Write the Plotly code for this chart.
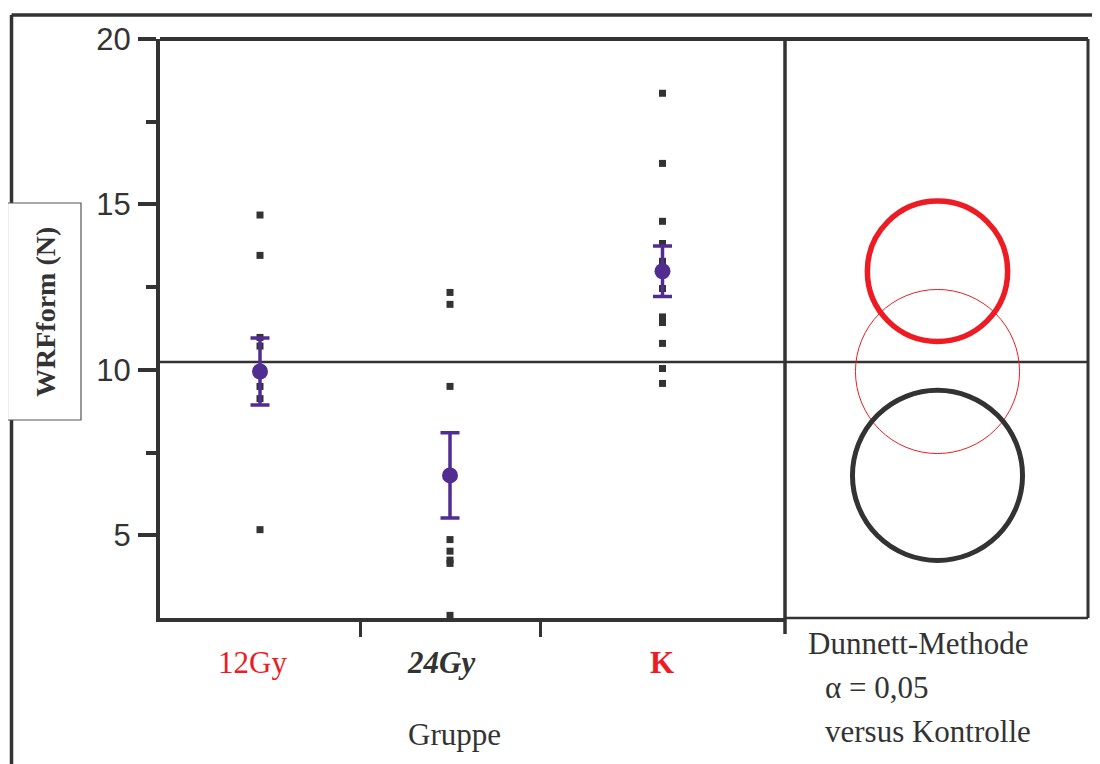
import plotly.graph_objects as go

# ---------------- data ----------------
categories = ["12Gy", "24Gy", "K"]
group_width = [8, 7.2, 9.8]          # relative width of each group on the x axis
values_12gy = [14.68, 13.46, 10.98, 10.72, 9.88, 9.50, 9.13, 5.17]
values_24gy = [12.34, 11.98, 9.50, 4.87, 4.52, 4.25, 4.15, 2.58]
values_k = [18.36, 16.24, 14.49, 13.82, 13.28, 12.46, 11.60, 11.43, 10.80, 10.04, 9.59]
group_means = [9.95, 6.81, 12.98]
mean_err = [1.01, 1.29, 0.76]
grand_mean = 10.24
circle_radius = [2.48, 2.57, 2.12]
y_ticks = [5, 10, 15, 20]
y_minor_ticks = [7.5, 12.5, 17.5]
y_range = [2.5, 20]
note_lines = ["Dunnett-Methode", "α = 0,05", "versus Kontrolle"]
y_title = "WRFform (N)"
x_title = "Gruppe"

# ---------------- layout geometry (page pixels, body margin 8px) ----------------
OFF = 8
W, H = 1100 - OFF, 764 - OFF
L, R = 160 - OFF, 12
T = 39 - OFF
B = H - (618 - OFF)
PW, PH = W - L - R, H - T - B
SPLIT = 785
dom_split = (SPLIT - OFF - L) / PW
DARK = "#333333"
RED = "#ED1C24"
PURPLE = "#512D91"


def px(x):
    return (x - OFF - L) / PW


def py(y):
    return (H - B - (y - OFF)) / PH


# group boundaries and centres
bounds = [0]
for w in group_width:
    bounds.append(bounds[-1] + w)
centers = [(bounds[i] + bounds[i + 1]) / 2 for i in range(len(categories))]
x_total = bounds[-1]

# right-panel axis scaled so that one unit equals one y unit in pixels
px_per_y = PH / (y_range[1] - y_range[0])
circ_cx = 937.5 - OFF
split_fig = SPLIT - OFF
x2_range = [-(circ_cx - split_fig) / px_per_y, (W - R - circ_cx) / px_per_y]

fig = go.Figure()

all_vals = [values_12gy, values_24gy, values_k]
for c, vals in zip(centers, all_vals):
    fig.add_trace(go.Scatter(
        x=[c] * len(vals), y=vals, mode="markers",
        marker=dict(symbol="square", size=7, color=DARK),
        showlegend=False, hoverinfo="y", cliponaxis=False))

fig.add_trace(go.Scatter(
    x=centers, y=group_means, mode="markers",
    marker=dict(symbol="circle", size=16, color=PURPLE),
    error_y=dict(type="data", array=mean_err, color=PURPLE, thickness=3.5, width=9.5),
    showlegend=False, hoverinfo="y"))

shapes = []
# grand mean line across both panels
shapes.append(dict(type="line", xref="paper", yref="y", x0=0, x1=1,
                   y0=grand_mean, y1=grand_mean, line=dict(color=DARK, width=2.5),
                   layer="below"))
# top border
shapes.append(dict(type="line", xref="paper", yref="paper", x0=0, x1=1,
                   y0=1, y1=1, line=dict(color=DARK, width=4)))
# separator between panels
shapes.append(dict(type="line", xref="paper", yref="paper", x0=dom_split, x1=dom_split,
                   y0=py(634), y1=1, line=dict(color=DARK, width=3.5)))
# right panel right and bottom border
shapes.append(dict(type="line", xref="paper", yref="paper", x0=1, x1=1,
                   y0=0, y1=1, line=dict(color=DARK, width=3)))
shapes.append(dict(type="line", xref="paper", yref="paper", x0=dom_split, x1=1,
                   y0=0, y1=0, line=dict(color=DARK, width=2.5)))
# outer frame
shapes.append(dict(type="line", xref="paper", yref="paper", x0=px(11.5), x1=px(1100),
                   y0=py(15), y1=py(15), line=dict(color=DARK, width=3.5)))
shapes.append(dict(type="line", xref="paper", yref="paper", x0=px(11.5), x1=px(11.5),
                   y0=py(15), y1=py(770), line=dict(color=DARK, width=3.5)))
# y title box
shapes.append(dict(type="rect", xref="paper", yref="paper", x0=px(7.5), x1=px(81),
                   y0=py(420), y1=py(203), fillcolor="white",
                   line=dict(color="#555555", width=1.2)))

# Dunnett circles
circle_style = [dict(color=RED, width=1), dict(color=DARK, width=5), dict(color=RED, width=5.5)]
for m, r, st in zip(group_means, circle_radius, circle_style):
    shapes.append(dict(type="circle", xref="x2", yref="y", x0=-r, x1=r,
                       y0=m - r, y1=m + r, line=st, layer="above"))

annotations = []
serif = "Liberation Serif"
label_text = [categories[0], "<b><i>" + categories[1] + "</i></b>", "<b>" + categories[2] + "</b>"]
label_color = [RED, DARK, RED]
label_shift = [-8, -9, -1]
for c, t, col, sh in zip(centers, label_text, label_color, label_shift):
    annotations.append(dict(x=c, xref="x", y=py(662), yref="paper", text=t,
                            showarrow=False, xanchor="center", yanchor="middle",
                            xshift=sh, font=dict(family=serif, size=31, color=col)))
annotations.append(dict(x=px(454), xref="paper", y=py(734), yref="paper", text=x_title,
                        showarrow=False, xanchor="center", yanchor="middle",
                        font=dict(family=serif, size=31, color=DARK)))
note_x = [806, 823, 823]
note_y = [643, 687, 731]
for t, nx, ny in zip(note_lines, note_x, note_y):
    annotations.append(dict(x=px(nx), xref="paper", y=py(ny), yref="paper", text=t,
                            showarrow=False, xanchor="left", yanchor="middle",
                            font=dict(family=serif, size=31, color=DARK)))
annotations.append(dict(x=px(45), xref="paper", y=py(312), yref="paper",
                        text="<b>" + y_title + "</b>", textangle=-90, showarrow=False,
                        xanchor="center", yanchor="middle",
                        font=dict(family=serif, size=28, color=DARK)))

fig.update_layout(
    width=W, height=H,
    margin=dict(l=L, r=R, t=T, b=B, pad=0),
    paper_bgcolor="white", plot_bgcolor="white",
    showlegend=False,
    xaxis=dict(domain=[0, dom_split], range=[0, x_total], showgrid=False, zeroline=False,
               showline=True, linewidth=4, linecolor=DARK,
               tickmode="array", tickvals=bounds[1:-1], ticks="outside",
               ticklen=15, tickwidth=2.5, tickcolor=DARK, showticklabels=False),
    xaxis2=dict(domain=[dom_split, 1], range=x2_range, visible=False, anchor="y"),
    yaxis=dict(range=y_range, showgrid=False, zeroline=False,
               showline=True, linewidth=4, linecolor=DARK,
               tickmode="array", tickvals=y_ticks, ticks="outside",
               ticklen=18, tickwidth=4, tickcolor=DARK,
               ticklabelstandoff=1,
               tickfont=dict(family="Liberation Sans", size=31, color=DARK),
               minor=dict(tickmode="array", tickvals=y_minor_ticks, ticks="outside",
                          ticklen=10, tickwidth=4, tickcolor=DARK)),
    shapes=shapes,
    annotations=annotations,
)

fig.write_html("out.html")
